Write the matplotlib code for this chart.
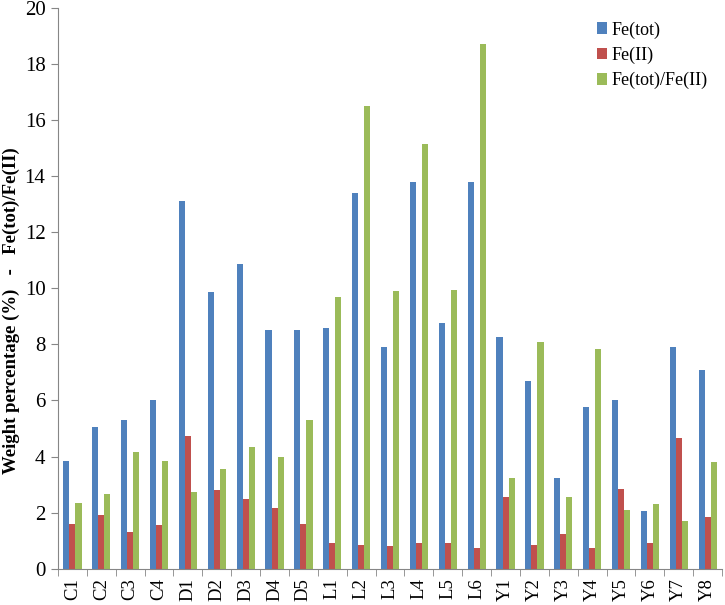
import matplotlib
matplotlib.use("Agg")
import matplotlib.pyplot as plt
import numpy as np

samples = ["C1", "C2", "C3", "C4", "D1", "D2", "D3", "D4", "D5",
           "L1", "L2", "L3", "L4", "L5", "L6",
           "Y1", "Y2", "Y3", "Y4", "Y5", "Y6", "Y7", "Y8"]
fe_tot = [3.85, 5.05, 5.3, 6.0, 13.1, 9.85, 10.85, 8.5, 8.5,
          8.6, 13.4, 7.9, 13.8, 8.75, 13.8,
          8.25, 6.7, 3.25, 5.75, 6.0, 2.05, 7.9, 7.1]
fe_ii = [1.6, 1.9, 1.3, 1.55, 4.75, 2.8, 2.5, 2.15, 1.6,
         0.9, 0.85, 0.8, 0.9, 0.9, 0.75,
         2.55, 0.85, 1.25, 0.75, 2.85, 0.9, 4.65, 1.85]
ratio = [2.35, 2.65, 4.15, 3.85, 2.75, 3.55, 4.35, 4.0, 5.3,
         9.7, 16.5, 9.9, 15.15, 9.95, 18.7,
         3.25, 8.1, 2.55, 7.85, 2.1, 2.3, 1.7, 3.8]

series = [("Fe(tot)", fe_tot, "#4F81BD"),
          ("Fe(II)", fe_ii, "#C0504D"),
          ("Fe(tot)/Fe(II)", ratio, "#9BBB59")]

plt.rcParams["font.family"] = ["Liberation Serif", "DejaVu Serif"]

fig = plt.figure(figsize=(7.25, 6.05), dpi=100)
ax = fig.add_axes([0.08, 0.06, 0.916, 0.927])

x = np.arange(len(samples))
w = 0.21
for i, (name, vals, col) in enumerate(series):
    ax.bar(x + (i - 1) * w, vals, width=w, color=col, label=name)

ax.set_xlim(-0.5, len(samples) - 0.5)
ax.set_ylim(0, 20)
ax.set_yticks(range(0, 21, 2))
ax.set_xticks(x)
ax.set_xticklabels(samples, rotation=90, fontsize=13.5)
ax.set_xticks(np.arange(-0.5, len(samples), 1), minor=True)
ax.tick_params(axis="x", which="major", length=0, pad=7)
ax.tick_params(axis="x", which="minor", length=5, color="#868686")
ax.tick_params(axis="y", length=5, color="#868686", labelsize=15, pad=4)

for s in ["top", "right"]:
    ax.spines[s].set_visible(False)
for s in ["left", "bottom"]:
    ax.spines[s].set_color("#868686")

ax.set_ylabel("Weight percentage (%)   -   Fe(tot)/Fe(II)", fontsize=13.5,
              fontweight="bold")
ax.yaxis.set_label_coords(-0.057, 0.46)

ax.legend(loc="upper left", bbox_to_anchor=(0.787, 1.005), frameon=False,
          fontsize=13, handlelength=0.55, handleheight=0.6,
          handletextpad=0.25, labelspacing=0.45)

fig.savefig("out.png", dpi=100)
